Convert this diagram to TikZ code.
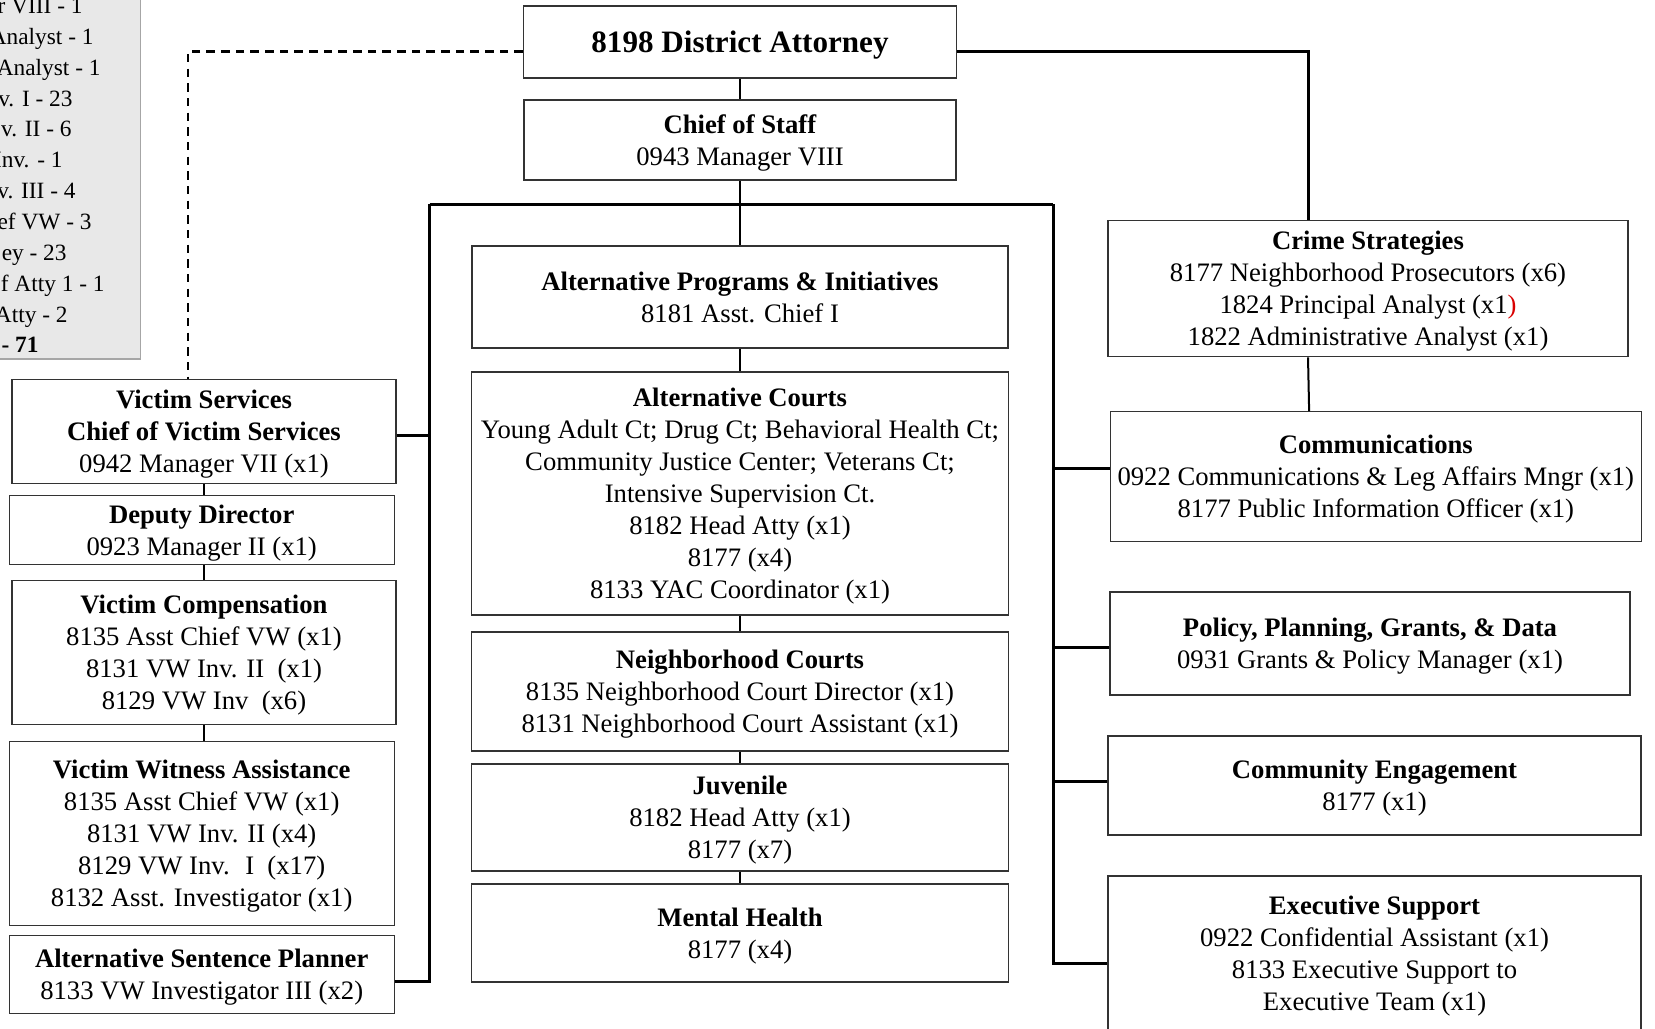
\documentclass[tikz,border=0pt]{standalone}
\usepackage{fontspec}
\setmainfont{Liberation Serif}

\tikzset{
	orgbox/.style 2 args={draw=black!80, line width=0.55pt, align=center, inner sep=1pt,
		minimum width=#1*0.45pt, minimum height=#2*0.45pt, text depth=0pt,
		font=\fontsize{12}{14.4}\selectfont},
	link/.style={line width=0.9pt},
	trunk/.style={line width=1.35pt},
	dashline/.style={line width=1.1pt, dash pattern=on 3.8pt off 2.8pt},
}

\begin{document}
\begin{tikzpicture}[x=0.45pt, y=-0.45pt]
		\useasboundingbox (0,0) rectangle (1655,1028);

		% head count box, cut off at the page edge
		\filldraw[fill=black!9, draw=black!35, line width=0.7pt]	(-40,-40) rectangle (140.5,359);
		\foreach \xr/\k/\txt in {83/0/{r VIII - 1}, 94/1/{Analyst - 1}, 101/2/{Analyst - 1},
				73/3/{v. I - 23}, 72/4/{v. II - 6}, 63/5/{Inv. - 1}, 76/6/{v. III - 4},
				92/7/{ef VW - 3}, 67/8/{ey - 23}, 105/9/{f Atty 1 - 1}, 68/10/{Atty - 2},
				39/11/{\textbf{- 71}}}
			\node[anchor=base east, inner sep=0pt, font=\fontsize{10.5}{12.6}\selectfont] (cnt\k) at (\xr, 13.5+30.86*\k) {\txt};

		% centre column
		\node[orgbox={433}{72}, font=\fontsize{14}{16.8}\selectfont\bfseries] (da) at (740,42) {8198 District Attorney};
		\node[orgbox={432}{80}] (cos) at (740,140) {\textbf{Chief of Staff}\\0943 Manager VIII};
		\node[orgbox={536}{102}] (api) at (740,297) {\textbf{Alternative Programs \& Initiatives}\\8181 Asst. Chief I};
		\node[orgbox={537}{243}] (ac) at (740,493.5) {\textbf{Alternative Courts}\\Young Adult Ct; Drug Ct; Behavioral Health Ct;\\Community Justice Center; Veterans Ct;\\Intensive Supervision Ct.\\8182 Head Atty (x1)\\8177 (x4)\\8133 YAC Coordinator (x1)};
		\node[orgbox={537}{119}] (nc) at (740,691.5) {\textbf{Neighborhood Courts}\\8135 Neighborhood Court Director (x1)\\8131 Neighborhood Court Assistant (x1)};
		\node[orgbox={537}{107}] (juv) at (740,817.5) {\textbf{Juvenile}\\8182 Head Atty (x1)\\8177 (x7)};
		\node[orgbox={537}{98}] (mh) at (740,933) {\textbf{Mental Health}\\8177 (x4)};

		% victim services column
		\node[orgbox={384}{104}] (vs) at (204,431.5) {\textbf{Victim Services}\\\textbf{Chief of Victim Services}\\0942 Manager VII (x1)};
		\node[orgbox={385}{69}] (dd) at (201.7,530) {\textbf{Deputy Director}\\0923 Manager II (x1)};
		\node[orgbox={384}{144}] (vc) at (204,652.6) {\textbf{Victim Compensation}\\8135 Asst Chief VW (x1)\\8131 VW Inv. II~ (x1)\\8129 VW Inv~ (x6)};
		\node[orgbox={385}{184}] (vwa) at (201.7,833.4) {\textbf{Victim Witness Assistance}\\8135 Asst Chief VW (x1)\\8131 VW Inv. II (x4)\\8129 VW Inv.~ I~ (x17)\\8132 Asst. Investigator (x1)};
		\node[orgbox={385}{78}] (asp) at (201.7,974.1) {\textbf{Alternative Sentence Planner}\\8133 VW Investigator III (x2)};

		% right column
		\node[orgbox={520}{136}] (cs) at (1368,288.7) {\textbf{Crime Strategies}\\8177 Neighborhood Prosecutors (x6)\\1824 Principal Analyst (x1\textcolor{red!85!black}{)}\\1822 Administrative Analyst (x1)};
		\node[orgbox={531}{130}] (comm) at (1375.8,476.7) {\textbf{Communications}\\0922 Communications \& Leg Affairs Mngr (x1)\\8177 Public Information Officer (x1)};
		\node[orgbox={520}{103}] (ppgd) at (1370,643.4) {\textbf{Policy, Planning, Grants, \& Data}\\0931 Grants \& Policy Manager (x1)};
		\node[orgbox={533}{99}] (ce) at (1374.5,785.5) {\textbf{Community Engagement}\\8177 (x1)};
		\node[orgbox={533}{154}] (es) at (1374.5,953) {\textbf{Executive Support}\\0922 Confidential Assistant (x1)\\8133 Executive Support to\\Executive Team (x1)};

		% connectors
		\coordinate (barL) at (429.5,204);
		\coordinate (barR) at (1053,204);

		\draw[link]		(da.south) to (cos.north);
		\draw[link]		(cos.south) to (api.north);
		\draw[link]		(api.south) to (ac.north);
		\draw[link]		(ac.south) to (nc.north);
		\draw[link]		(nc.south) to (juv.north);
		\draw[link]		(juv.south) to (mh.north);

		\draw[trunk]	(barL) to (barR);
		\draw[trunk]	([yshift=-2pt]vs.east) -| (barL);
		\draw[trunk]	([yshift=-3.4pt]asp.east) -| (barL);
		\draw[trunk]	([yshift=3.5pt]comm.west) -| (barR);
		\draw[trunk]	([yshift=-2pt]ppgd.west) -| (barR);
		\draw[trunk]	([yshift=1.6pt]ce.west) -| (barR);
		\draw[trunk]	([yshift=-4.5pt]es.west) -| (barR);

		\draw[link]		(vs.south) to (vs.south |- dd.north);
		\draw[link]		(vs.south |- dd.south) to (vs.south |- vc.north);
		\draw[link]		(vs.south |- vc.south) to (vs.south |- vwa.north);

		\draw[trunk]	([yshift=-4.3pt]da.east) -| ([xshift=-27pt]cs.north);
		\draw[link]		([xshift=-27pt]cs.south) to ([xshift=-30pt]comm.north);
		\draw[dashline]	([yshift=-4.3pt]da.west) -| ([xshift=-7.2pt]vs.north);
	\end{tikzpicture}
\end{document}
